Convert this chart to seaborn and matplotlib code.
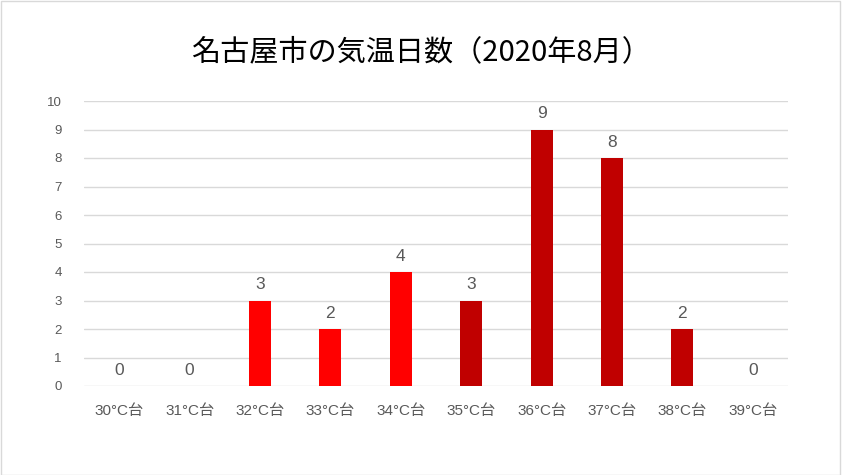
import matplotlib
matplotlib.use("Agg")
import matplotlib.pyplot as plt
import seaborn as sns
import pandas as pd
from matplotlib.patches import Rectangle

categories = ["30°C台", "31°C台", "32°C台", "33°C台", "34°C台",
              "35°C台", "36°C台", "37°C台", "38°C台", "39°C台"]
days = [0, 0, 3, 2, 4, 3, 9, 8, 2, 0]
bar_colors = ["#FF0000"] * 5 + ["#C00000"] * 5
title = "名古屋市の気温日数（2020年8月）"
yticks = list(range(0, 11))

sns.set_theme(style="white")
plt.rcParams['font.family'] = ['Liberation Sans', 'Noto Sans CJK JP', 'DejaVu Sans']

df = pd.DataFrame({"cat": categories, "days": days})

fig = plt.figure(figsize=(8.42, 4.75), dpi=100)
ax = fig.add_axes([84/842, 89/475, 704/842, 285/475])

sns.barplot(data=df, x="cat", y="days", hue="cat", palette=bar_colors,
            legend=False, width=0.31, ax=ax, saturation=1, order=categories,
            linewidth=0, edgecolor="none")

for c in ax.containers:
    ax.bar_label(c, padding=6, fontsize=12.5, color="#595959")

ax.set_ylim(0, 10)
ax.set_yticks(yticks)
ax.set_xlim(-0.5, len(categories) - 0.5)
ax.yaxis.grid(True, color="#D9D9D9", linewidth=1)
ax.set_axisbelow(True)
for s in ax.spines.values():
    s.set_visible(False)
ax.set_xlabel("")
ax.set_ylabel("")
ax.tick_params(axis="y", labelsize=9.5, colors="#595959", length=0, pad=16)
ax.tick_params(axis="x", labelsize=11, colors="#595959", length=0, pad=13)

fig.text(0.5, 1 - 52/475, title, ha="center", va="center", fontsize=21,
         color="#000000", family=['Noto Sans CJK JP', 'DejaVu Sans'])

fig.patches.append(Rectangle((0.001, 0.001), 0.997, 0.997, transform=fig.transFigure,
                             fill=False, edgecolor="#D9D9D9", linewidth=1))

fig.savefig("out.png", dpi=100)
